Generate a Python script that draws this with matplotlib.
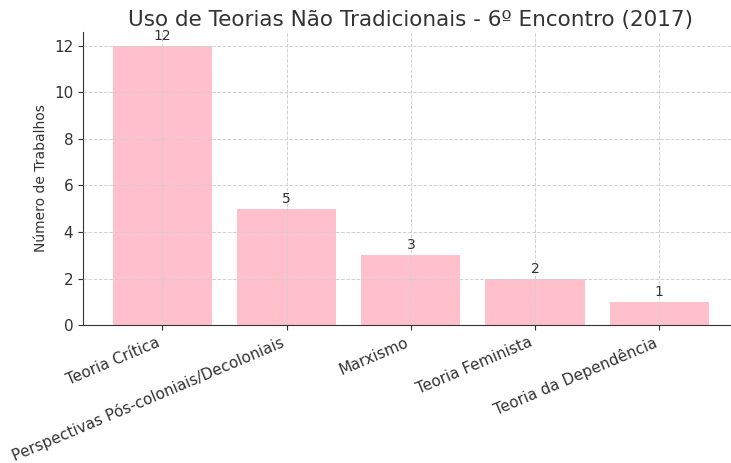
import matplotlib
matplotlib.use("Agg")
import matplotlib.pyplot as plt

categories = ["Teoria Crítica", "Perspectivas Pós-coloniais/Decoloniais", "Marxismo",
              "Teoria Feminista", "Teoria da Dependência"]
values = [12, 5, 3, 2, 1]

fig = plt.figure(figsize=(7.31, 4.63), dpi=100)
ax = fig.add_axes([0.1135, 0.298, 0.897, 0.633])
txt = "#333333"
bars = ax.bar(categories, values, color="pink", width=0.8)
for b, v in zip(bars, values):
    ax.text(b.get_x() + b.get_width() / 2, v + 0.12, str(v), ha="center", va="bottom",
            fontsize=10, color=txt)
ax.set_title("Uso de Teorias Não Tradicionais - 6º Encontro (2017)", fontsize=15.5, color=txt, pad=4)
ax.set_ylabel("Número de Trabalhos", fontsize=10, color=txt, labelpad=4)
ax.grid(True, linestyle="--", color="#d0d0d0", linewidth=0.7)
ax.set_axisbelow(False)
for s in ["top", "right"]:
    ax.spines[s].set_visible(False)
ax.spines["left"].set_color(txt)
ax.spines["bottom"].set_color(txt)
ax.tick_params(colors=txt, labelsize=11)
plt.setp(ax.get_xticklabels(), rotation=23, ha="right", fontsize=11)
fig.savefig("out.png", dpi=100)
